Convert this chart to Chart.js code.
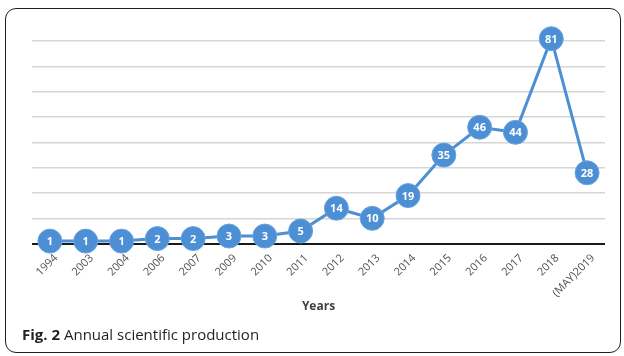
<!DOCTYPE html>
<html>
<head>
<meta charset="utf-8">
<script src="https://cdn.jsdelivr.net/npm/chart.js@4"></script>
<style>
    html, body { margin: 0; padding: 0; background: #fff; }
    #wrap { position: relative; width: 624px; height: 356px; overflow: hidden; }
    #frame {
        position: absolute; left: 5px; top: 8px; width: 614px; height: 343px;
        border: 1.5px solid #1f1f1f; border-radius: 11px;
    }
    #chart { position: absolute; left: 0; top: 0; }
    #caption {
        position: absolute; left: 22px; top: 324px;
        font-family: 'Open Sans', 'Noto Sans', sans-serif; font-size: 15px; color: #231f20;
        white-space: nowrap;
    }
    #caption b { font-weight: 700; }
</style>
</head>
<body>
<div id="wrap">
    <div id="frame"></div>
    <canvas id="chart" width="624" height="356"></canvas>
    <div id="caption"><b>Fig. 2</b> Annual scientific production</div>
</div>
<script>
const years = ['1994', '2003', '2004', '2006', '2007', '2009', '2010', '2011',
    '2012', '2013', '2014', '2015', '2016', '2017', '2018', '(MAY)2019'];
const publications = [1, 1, 1, 2, 2, 3, 3, 5, 14, 10, 19, 35, 46, 44, 81, 28];
const xTitle = 'Years';

const BLUE = '#4d8fd5';

// white numbers inside each marker
const pointLabels = {
    id: 'pointLabels',
    afterDatasetsDraw(chart) {
        const ctx = chart.ctx;
        const meta = chart.getDatasetMeta(0);
        ctx.save();
        ctx.fillStyle = '#ffffff';
        ctx.font = "bold 11px 'Open Sans', sans-serif";
        ctx.textAlign = 'center';
        ctx.textBaseline = 'middle';
        meta.data.forEach((pt, i) => {
            ctx.fillText(String(publications[i]), pt.x, pt.y + 1);
        });
        ctx.restore();
    }
};

new Chart(document.getElementById('chart'), {
    type: 'line',
    data: {
        labels: years,
        datasets: [{
            data: publications,
            borderColor: BLUE,
            backgroundColor: BLUE,
            borderWidth: 3,
            pointRadius: 12,
            pointBackgroundColor: BLUE,
            pointBorderColor: '#6aa3de',
            pointBorderWidth: 1,
            tension: 0,
            clip: false,
        }]
    },
    options: {
        responsive: false,
        animation: false,
        layout: { padding: { left: 32, right: 19, top: 21, bottom: 42 } },
        plugins: {
            legend: { display: false },
            tooltip: { enabled: false },
        },
        scales: {
            x: {
                offset: true,
                grid: { display: false },
                border: { display: false },
                ticks: {
                    autoSkip: false,
                    minRotation: 45,
                    maxRotation: 45,
                    padding: 0,
                    labelOffset: 6,
                    color: '#505050',
                    font: { family: "'Open Sans', sans-serif", size: 11 },
                },
                title: {
                    display: true,
                    text: xTitle,
                    color: '#404040',
                    padding: { top: 0, bottom: 0 },
                    font: { family: "'Open Sans', sans-serif", size: 12, weight: 'bold' },
                },
            },
            y: {
                min: 0,
                max: 88,
                border: { display: false },
                ticks: { display: false, stepSize: 10 },
                grid: {
                    drawTicks: false,
                    color: (c) => c.tick.value === 0 ? '#1a1a1a' : (c.tick.value <= 80 ? '#d6d6d6' : 'rgba(0,0,0,0)'),
                    lineWidth: (c) => c.tick.value === 0 ? 2 : 1.5,
                },
            },
        },
    },
    plugins: [pointLabels],
});
</script>
</body>
</html>
